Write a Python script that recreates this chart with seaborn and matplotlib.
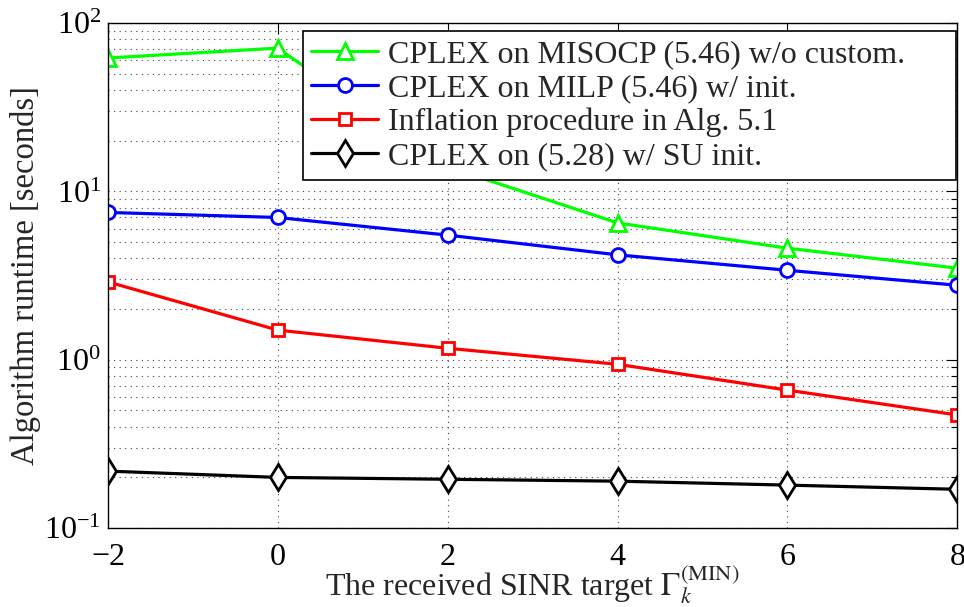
import matplotlib
matplotlib.use('Agg')
import matplotlib.pyplot as plt
import matplotlib.ticker as mticker
import pandas as pd
import seaborn as sns

# SINR targets (x axis)
sinr = [-2, 0, 2, 4, 6, 8]

# Runtimes in seconds
misocp = [62, 71, 14, 6.5, 4.6, 3.5]
milp = [7.5, 7.0, 5.5, 4.2, 3.4, 2.77]
inflation = [2.9, 1.5, 1.17, 0.94, 0.66, 0.47]
su_init = [0.218, 0.200, 0.195, 0.19, 0.18, 0.17]

labels = [
    'CPLEX on MISOCP (5.46) w/o custom.',
    'CPLEX on MILP (5.46) w/ init.',
    'Inflation procedure in Alg. 5.1',
    'CPLEX on (5.28) w/ SU init.',
]

sns.set_theme(style='white')
plt.rcParams['font.family'] = ['Liberation Serif', 'DejaVu Serif']
plt.rcParams['mathtext.fontset'] = 'stix'

fig = plt.figure(figsize=(9.64, 6.07), dpi=100)
ax = fig.add_axes([0.112, 0.130, 0.881, 0.832])

series = [
    (misocp, labels[0], '#00ff00', '^', 12),
    (milp, labels[1], '#0000ff', 'o', 10),
    (inflation, labels[2], '#ff0000', 's', 8),
    (su_init, labels[3], '#000000', 'd', 13),
]

for vals, lab, col, mk, ms in series:
    df = pd.DataFrame({'x': sinr, 'y': vals})
    sns.lineplot(data=df, x='x', y='y', ax=ax, color=col, linewidth=2.3,
                 marker=mk, markersize=ms, markerfacecolor='white',
                 markeredgecolor=col, markeredgewidth=2.0, label=lab)

ax.set_yscale('log')
ax.set_xlim(-2, 8)
ax.set_ylim(0.1, 100)
ax.set_xticks(sinr)
ax.set_xticklabels(['\u22122', '0', '2', '4', '6', '8'])
ax.yaxis.set_major_locator(mticker.LogLocator(base=10, numticks=10))
ax.yaxis.set_minor_locator(mticker.LogLocator(base=10, subs=range(2, 10), numticks=20))
ax.yaxis.set_minor_formatter(mticker.NullFormatter())

ax.grid(True, which='major', axis='x', linestyle=(0, (1, 4)), color='#444444', linewidth=0.8)
ax.grid(True, which='both', axis='y', linestyle=(0, (1, 4)), color='#444444', linewidth=0.8)

ax.tick_params(which='both', direction='in', top=True, right=True, labelsize=23, colors='black')
ax.tick_params(axis='x', pad=11)
ax.tick_params(axis='y', pad=5)
ax.tick_params(which='major', length=8, width=0.8)
ax.tick_params(which='minor', length=4, width=0.8)
for lbl in ax.get_yticklabels():
    lbl.set_verticalalignment('center_baseline')
for s in ax.spines.values():
    s.set_color('black')
    s.set_linewidth(1.0)

ax.set_xlabel('The received SINR target $\\Gamma_k^{(\\mathrm{MIN})}$', fontsize=23, labelpad=-7)
ax.set_ylabel('Algorithm runtime [seconds]', fontsize=23.5, labelpad=2)

leg = ax.legend(loc='upper right', bbox_to_anchor=(0.2297, 0.6, 0.769, 0.384), mode='expand',
                fontsize=23, frameon=True, fancybox=False, framealpha=1, edgecolor='black',
                borderpad=0.26, labelspacing=0.15, handlelength=2.1, handletextpad=0.3,
                borderaxespad=0)
leg.get_frame().set_linewidth(1.2)

fig.savefig('out.png', dpi=100)
